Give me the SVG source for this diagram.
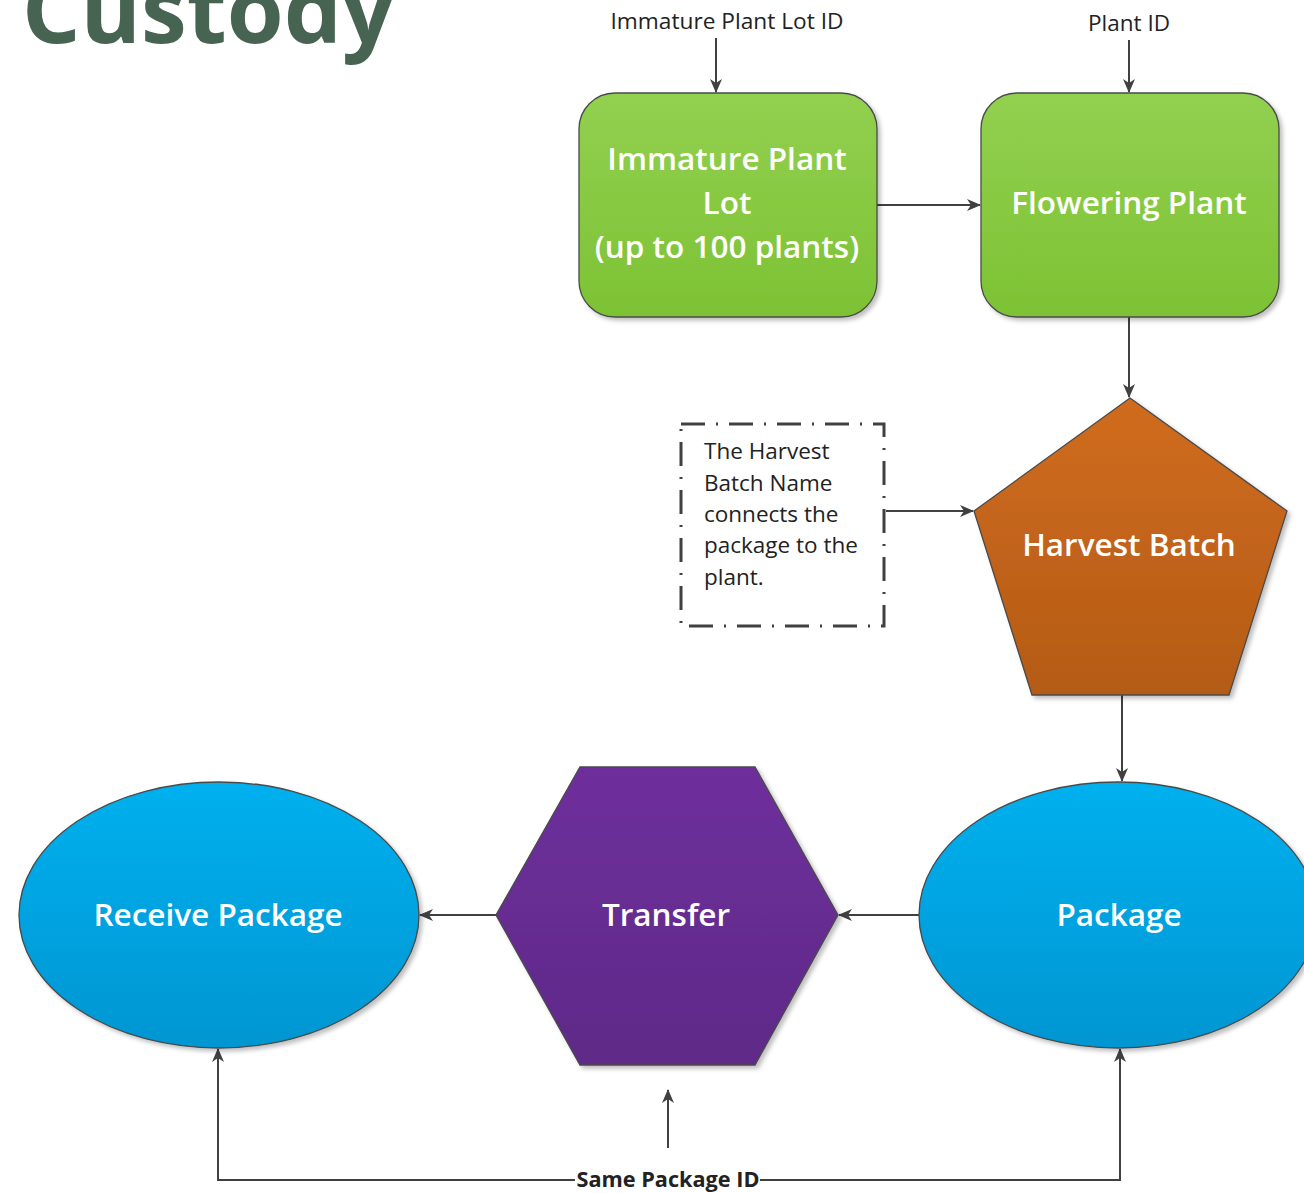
<svg xmlns="http://www.w3.org/2000/svg" width="1304" height="1193" viewBox="0 0 1304 1193">
<defs>
<linearGradient id="gGreen" x1="0" y1="0" x2="0" y2="1"><stop offset="0" stop-color="#92D050"/><stop offset="1" stop-color="#7DC234"/></linearGradient>
<linearGradient id="gOrange" x1="0" y1="0" x2="0" y2="1"><stop offset="0" stop-color="#D06C1C"/><stop offset="1" stop-color="#B45B18"/></linearGradient>
<linearGradient id="gBlue" x1="0" y1="0" x2="0" y2="1"><stop offset="0" stop-color="#00B0EE"/><stop offset="1" stop-color="#0096D2"/></linearGradient>
<linearGradient id="gPurple" x1="0" y1="0" x2="0" y2="1"><stop offset="0" stop-color="#6E2F9C"/><stop offset="1" stop-color="#5F2A88"/></linearGradient>
<filter id="sh" x="-10%" y="-10%" width="120%" height="120%"><feDropShadow dx="3" dy="3" stdDeviation="2" flood-color="#000" flood-opacity="0.25"/></filter>
<marker id="arr" markerWidth="14" markerHeight="12" refX="13" refY="6" orient="auto" markerUnits="userSpaceOnUse"><path d="M0,0 L14,6 L0,12 L4,6 Z" fill="#404040"/></marker>
</defs>
<style>
.node{stroke:#4a4a4a;stroke-width:1.3;filter:url(#sh)}
.nt{font-family:"Open Sans","DejaVu Sans",sans-serif;font-weight:600;font-size:31.5px;fill:#fff;text-anchor:middle}
.lbl{font-family:"Open Sans","DejaVu Sans",sans-serif;font-size:21px;fill:#222;text-anchor:middle}
.note{font-family:"Open Sans","DejaVu Sans",sans-serif;font-size:22.5px;fill:#222}
.c{stroke:#404040;stroke-width:2;fill:none}
.ca{stroke:#404040;stroke-width:2;fill:none;marker-end:url(#arr)}
</style>
<rect width="1304" height="1193" fill="#fff"/>
<text x="22" y="43" font-family="Open Sans, DejaVu Sans, sans-serif" font-weight="700" font-size="92" fill="#476352">Custody</text>

<g id="connectors">
<path class="ca" d="M716,38 L716,92"/>
<path class="ca" d="M1129,40 L1129,92"/>
<path class="ca" d="M877,205 L980,205"/>
<path class="ca" d="M1129,317 L1129,397"/>
<path class="ca" d="M886,511 L973,511"/>
<path class="ca" d="M1116,690 L1122,690 L1122,781"/>
<path class="ca" d="M919,915 L839,915"/>
<path class="ca" d="M496,915 L420,915"/>
<path class="ca" d="M575,1180 L218,1180 L218,1049"/>
<path class="ca" d="M760,1180 L1120,1180 L1120,1049"/>
<path class="ca" d="M668,1148 L668,1090"/>
</g>

<g id="label-lot-id"><text class="lbl" x="727" y="29" textLength="233" lengthAdjust="spacingAndGlyphs">Immature Plant Lot ID</text></g>
<g id="label-plant-id"><text class="lbl" x="1129" y="31" textLength="82" lengthAdjust="spacingAndGlyphs">Plant ID</text></g>

<g id="immature-plant-lot">
<rect class="node" x="579" y="93" width="298" height="224" rx="36" fill="url(#gGreen)"/>
<text class="nt" x="727" y="170">Immature Plant</text>
<text class="nt" x="727" y="214">Lot</text>
<text class="nt" x="727" y="258">(up to 100 plants)</text>
</g>

<g id="flowering-plant">
<rect class="node" x="981" y="93" width="298" height="224" rx="36" fill="url(#gGreen)"/>
<text class="nt" x="1129" y="214">Flowering Plant</text>
</g>

<g id="note">
<rect x="681" y="424" width="203" height="202" fill="#fff" stroke="#404040" stroke-width="3" stroke-dasharray="24 11 2 11"/>
<text class="note" x="704" y="459">The Harvest</text>
<text class="note" x="704" y="491">Batch Name</text>
<text class="note" x="704" y="522">connects the</text>
<text class="note" x="704" y="553">package to the</text>
<text class="note" x="704" y="585">plant.</text>
</g>

<g id="harvest-batch">
<polygon class="node" points="1130,398 1287,511 1229,695 1032,695 974,511" fill="url(#gOrange)"/>
<text class="nt" x="1129" y="556">Harvest Batch</text>
</g>

<g id="package">
<ellipse class="node" cx="1118" cy="915" rx="199" ry="133" fill="url(#gBlue)"/>
<text class="nt" x="1119" y="926">Package</text>
</g>

<g id="transfer">
<polygon class="node" points="580,767 755,767 838,915 755,1065 580,1065 496,915" fill="url(#gPurple)"/>
<text class="nt" x="666" y="926">Transfer</text>
</g>

<g id="receive-package">
<ellipse class="node" cx="219" cy="915" rx="200" ry="133" fill="url(#gBlue)"/>
<text class="nt" x="218" y="926">Receive Package</text>
</g>

<g id="label-same-id"><text class="lbl" x="668" y="1187" font-weight="700" textLength="183" lengthAdjust="spacingAndGlyphs">Same Package ID</text></g>
</svg>
